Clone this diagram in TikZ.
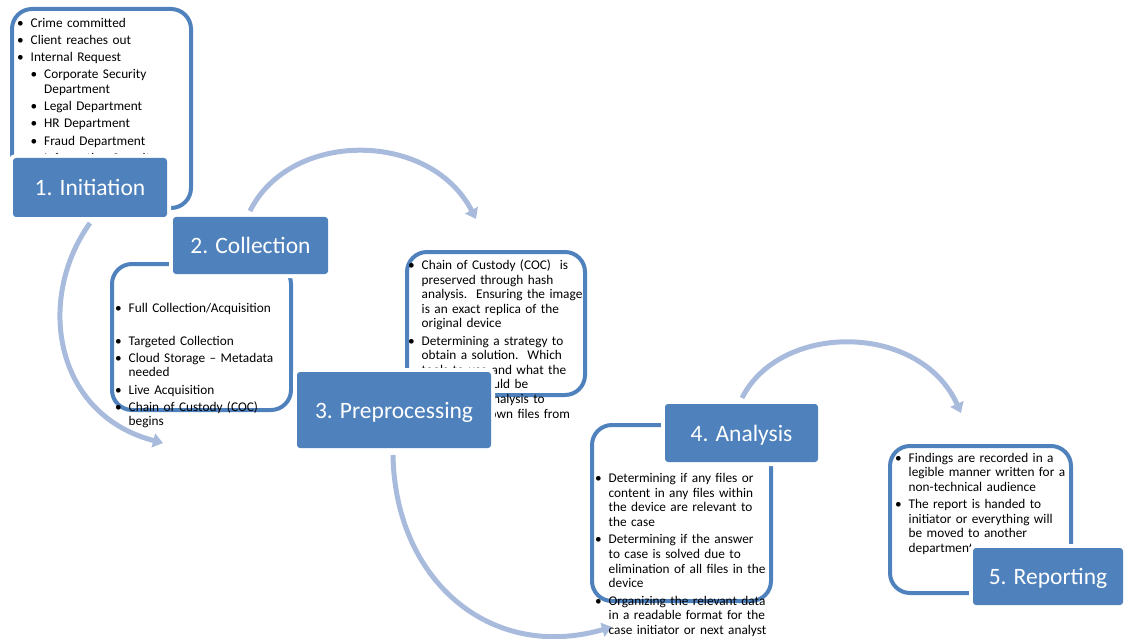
\documentclass[tikz,border=0pt]{standalone}
\usepackage{fontspec}
\setmainfont{Carlito}
\usetikzlibrary{arrows.meta}
\definecolor{accent}{RGB}{79,129,189}
\definecolor{arrowc}{RGB}{169,187,220}
\newlength\bind \setlength\bind{13.5pt}
\newcommand\bitem[1]{\par\hangindent=\bind\hangafter=1\noindent\makebox[\bind][l]{\strut\textbullet}#1}
\newcommand\bsub[1]{\par\hangindent=2\bind\hangafter=1\noindent\hspace*{\bind}\makebox[\bind][l]{\strut\textbullet}#1}
\tikzset{
  panel/.style={draw=accent, line width=4pt, rounded corners=20pt, fill=white, inner sep=0pt},
  stagebox/.style={fill=accent, rounded corners=3pt, text=white, inner sep=0pt,
    font=\fontsize{23.5}{28}\selectfont, text height=16pt, text depth=0pt,
    preaction={draw=white, line width=8pt}},
  bodytext/.style={anchor=north west, inner sep=0pt, text width=200pt, align=left,
    font=\fontsize{13.3}{14.6}\selectfont},
  flow/.style={draw=arrowc, line width=5pt, -{Triangle[width=14pt,length=10pt]}},
}
\begin{document}
\begin{tikzpicture}[x=1pt,y=-1pt]
\useasboundingbox (0,0) rectangle (1124,639);
\clip (0,0) rectangle (1124,639);

% arrow end points
\coordinate (a1s) at (90,223);
\coordinate (a1e) at (163,443);
\coordinate (a2s) at (250,211);
\coordinate (a2e) at (476,219);
\coordinate (a3s) at (393,455);
\coordinate (a3e) at (612,627);
\coordinate (a4s) at (742,398);
\coordinate (a4e) at (961,413);

% curved arrows
\draw[flow] (a1s) .. controls (35,300) and (55,415) .. (a1e);
\draw[flow] (a2s) .. controls (290,130) and (430,130) .. (a2e);
\draw[flow] (a3s) .. controls (395,580) and (490,662) .. (a3e);
\draw[flow] (a4s) .. controls (780,322) and (920,322) .. (a4e);

% outlined panels
\node[panel, minimum width=179pt, minimum height=199pt] (o1) at (101.5,108.5) {};
\node[panel, minimum width=179pt, minimum height=146pt] (o2) at (201.5,337) {};
\node[panel, minimum width=178pt, minimum height=143pt] (o3) at (496,323.5) {};
\node[panel, minimum width=179pt, minimum height=176pt] (o4) at (681.5,513) {};
\node[panel, minimum width=181pt, minimum height=147pt] (o5) at (980.5,519.5) {};

% texts
\node[bodytext] (t1) at (17,10) {\setlength\parskip{2.6pt}%
\bitem{Crime committed}
\bitem{Client reaches out}
\bitem{Internal Request}
\bsub{Corporate Security\newline Department}
\bsub{Legal Department}
\bsub{HR Department}
\bsub{Fraud Department}
\bsub{Information Security}\par};

\node[bodytext] (t2) at (115,295) {\setlength\parskip{2.6pt}%
\bitem{Full Collection/Acquisition}\par\vspace{15.5pt}
\bitem{Targeted Collection}
\bitem{Cloud Storage -- Metadata\newline needed}
\bitem{Live Acquisition}
\bitem{Chain of Custody (COC)\newline begins}\par};

\node[bodytext] (t3) at (408,252) {\setlength\parskip{2.6pt}%
\bitem{Chain of Custody (COC)\ \ is\newline preserved through hash\newline analysis.\ \ Ensuring the image\newline is an exact replica of the\newline original device}
\bitem{Determining a strategy to\newline obtain a solution.\ \ Which\newline tools to use and what the\newline methods should be\newline performing analysis to\newline eliminate known files from}\par};

\node[bodytext] (t4) at (595,465) {\setlength\parskip{2.8pt}%
\bitem{Determining if any files or\newline content in any files within\newline the device are relevant to\newline the case}
\bitem{Determining if the answer\newline to case is solved due to\newline elimination of all files in the\newline device}
\bitem{Organizing the relevant data\newline in a readable format for the\newline case initiator or next analyst}\par};

\node[bodytext] (t5) at (895,444.5) {\setlength\parskip{2.8pt}%
\bitem{Findings are recorded in a\newline legible manner written for a\newline non-technical audience}
\bitem{The report is handed to\newline initiator or everything will\newline be moved to another\newline department}\par};

% stage labels
\node[stagebox, minimum width=154pt, minimum height=59pt] (l1) at (90,187.5) {1. Initiation};
\node[stagebox, minimum width=155pt, minimum height=57pt] (l2) at (250.5,245.5) {2. Collection};
\node[stagebox, minimum width=194pt, minimum height=76pt] (l3) at (394,410) {3. Preprocessing};
\node[stagebox, minimum width=153pt, minimum height=58pt] (l4) at (741.5,433) {4. Analysis};
\node[stagebox, minimum width=150pt, minimum height=57pt] (l5) at (1048,576.5) {5. Reporting};
\end{tikzpicture}
\end{document}
